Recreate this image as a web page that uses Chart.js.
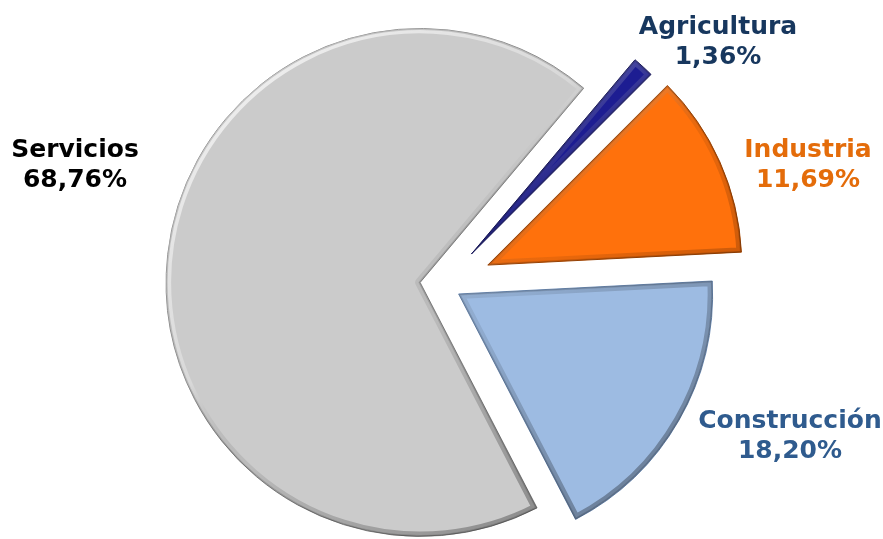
<!DOCTYPE html>
<html>
<head>
<meta charset="utf-8">
<script src="https://cdn.jsdelivr.net/npm/chart.js@4"></script>
<style>
  html, body { margin: 0; padding: 0; background: #fff; }
  #wrap { width: 883px; height: 539px; }
</style>
</head>
<body>
<div id="wrap"><canvas id="sectorChart"></canvas></div>
<script>
// participación por sector (%)
const categories = ["Agricultura", "Industria", "Construcción", "Servicios"];
const shares = [1.36, 11.69, 18.20, 68.76];

const sliceColors = ["#1d1d92", "#ff710c", "#9dbbe2", "#cbcbcb"];
const edgeColors = ["#0e0e55", "#a84a06", "#6f8db5", "#8a8a8a"];
const textColors = ["#17375e", "#e46c0a", "#2f5b8e", "#000000"];
const explode = [42, 49, 18, 23]; // px, hacia fuera
const labelPos = [[718, 34], [808, 157], [790, 428], [75, 157]]; // baseline 1a linea

const fmt = v => v.toFixed(2).replace(".", ",") + "%";

// separar las porciones a lo largo de su angulo medio
const explodePlugin = {
  id: "explode",
  afterDatasetsUpdate(chart) {
    chart.getDatasetMeta(0).data.forEach((arc, i) => {
      const mid = (arc.startAngle + arc.endAngle) / 2;
      arc.x += Math.cos(mid) * explode[i];
      arc.y += Math.sin(mid) * explode[i];
    });
  }
};

// efecto bisel: luz arriba-izquierda, sombra abajo-derecha
const bevelPlugin = {
  id: "bevel",
  afterDatasetsDraw(chart) {
    const ctx = chart.ctx;
    chart.getDatasetMeta(0).data.forEach(arc => {
      const r = arc.outerRadius;
      const slice = () => {
        ctx.beginPath();
        ctx.moveTo(arc.x, arc.y);
        ctx.arc(arc.x, arc.y, r, arc.startAngle, arc.endAngle);
        ctx.closePath();
      };
      ctx.save();
      slice();
      ctx.clip();
      const g = ctx.createLinearGradient(arc.x - r, arc.y - r, arc.x + r * 0.6, arc.y + r);
      g.addColorStop(0, "rgba(255,255,255,0.85)");
      g.addColorStop(0.45, "rgba(255,255,255,0.25)");
      g.addColorStop(0.6, "rgba(0,0,0,0.08)");
      g.addColorStop(1, "rgba(0,0,0,0.35)");
      ctx.strokeStyle = g;
      ctx.lineJoin = "round";
      ctx.lineWidth = 10;
      slice();
      ctx.stroke();
      ctx.strokeStyle = "rgba(0,0,0,0.15)";
      ctx.lineWidth = 3;
      slice();
      ctx.stroke();
      ctx.restore();
    });
  }
};

const labelPlugin = {
  id: "sectorLabels",
  afterDraw(chart) {
    const ctx = chart.ctx;
    ctx.save();
    ctx.font = "bold 25px 'DejaVu Sans'";
    ctx.textAlign = "center";
    ctx.textBaseline = "alphabetic";
    categories.forEach((name, i) => {
      const [x, y] = labelPos[i];
      ctx.fillStyle = textColors[i];
      ctx.fillText(name, x, y);
      ctx.fillText(fmt(shares[i]), x, y + 30);
    });
    ctx.restore();
  }
};

new Chart(document.getElementById("sectorChart"), {
  type: "pie",
  data: {
    labels: categories,
    datasets: [{
      data: shares,
      backgroundColor: sliceColors,
      borderColor: edgeColors,
      borderWidth: 1,
      borderJoinStyle: "round"
    }]
  },
  options: {
    responsive: true,
    maintainAspectRatio: false,
    animation: false,
    rotation: 40.1,
    radius: 254,
    layout: { padding: { left: 3, right: 0, top: 31, bottom: 0 } },
    plugins: {
      legend: { display: false },
      tooltip: { enabled: false }
    },
    events: []
  },
  plugins: [explodePlugin, bevelPlugin, labelPlugin]
});
</script>
</body>
</html>
